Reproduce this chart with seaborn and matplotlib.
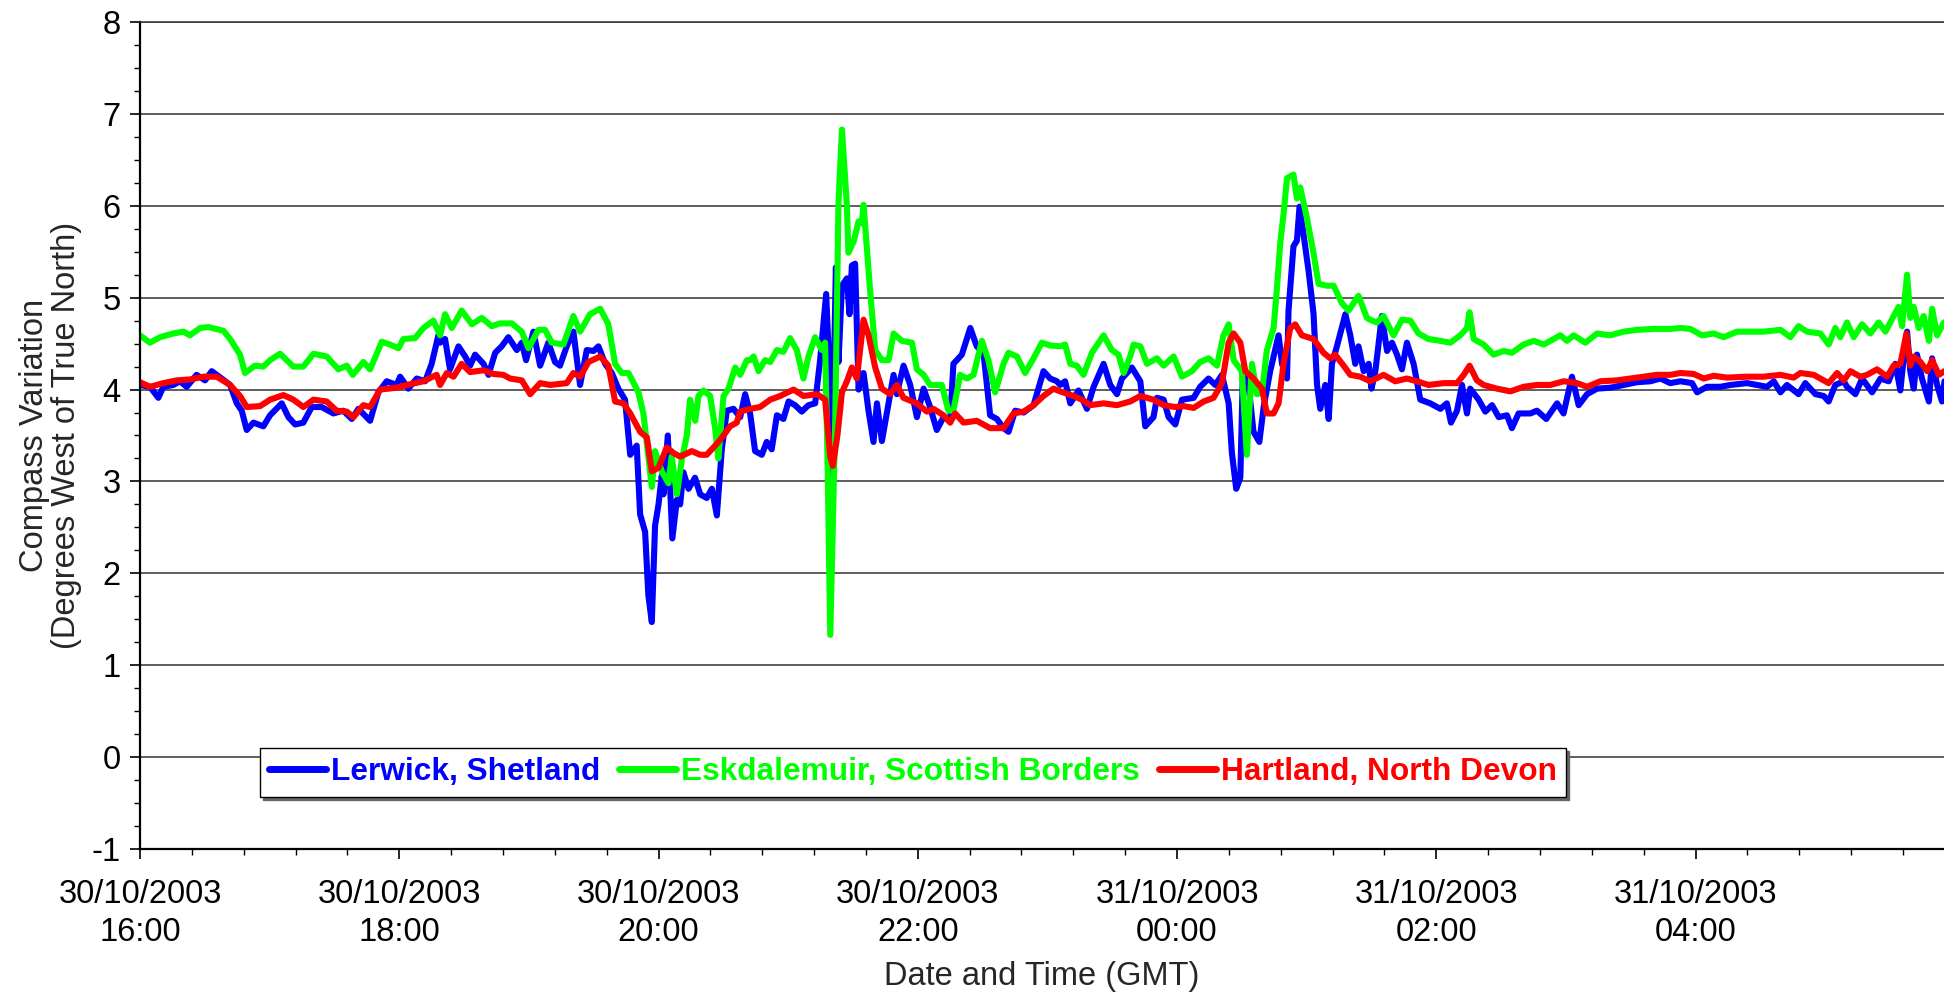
import pandas as pd
import numpy as np
import matplotlib.pyplot as plt
import matplotlib.dates as mdates
import seaborn as sns

# --- data: minutes after 30/10/2003 16:00 GMT, compass variation in degrees ---
lerwick_min = [
    0.0, 4.6, 8.5, 10.8, 15.4, 18.5, 21.6, 26.2, 30.1, 33.2,
    37.8, 41.7, 44.8, 47.1, 49.4, 52.5, 57.1, 60.2, 65.6, 68.7,
    71.8, 75.6, 79.5, 84.1, 89.5, 94.1, 98.0, 101.1, 106.5, 110.3,
    114.2, 118.8, 120.4, 124.2, 128.1, 132.0, 135.0, 138.1, 138.9, 141.2,
    143.5, 147.4, 150.5, 152.8, 155.1, 159.0, 161.3, 164.4, 167.4, 170.5,
    174.4, 176.7, 178.7, 182.1, 185.2, 189.0, 192.1, 194.4, 197.5, 200.6,
    203.7, 206.8, 209.9, 212.2, 215.3, 218.4, 221.4, 224.5, 226.9, 229.9,
    231.5, 233.8, 235.3, 236.9, 238.4, 240.0, 241.5, 242.3, 244.3, 246.4,
    248.5, 250.0, 251.5, 253.9, 256.9, 259.3, 262.3, 264.7, 267.0, 269.3,
    271.6, 274.7, 277.8, 280.1, 282.4, 284.7, 287.8, 290.1, 292.4, 294.8,
    297.8, 300.2, 303.2, 306.3, 309.4, 312.5, 314.8, 317.6, 318.7, 320.2,
    322.1, 323.3, 324.9, 327.2, 328.4, 329.5, 331.0, 332.6, 334.9, 337.2,
    339.5, 341.1, 343.4, 346.5, 348.8, 350.3, 353.4, 356.5, 359.6, 362.7,
    365.7, 368.8, 371.9, 375.0, 376.5, 380.4, 384.3, 387.3, 390.4, 393.5,
    396.6, 399.7, 402.0, 405.1, 409.0, 413.6, 418.2, 421.3, 424.4, 425.9,
    428.2, 430.6, 434.4, 438.3, 441.4, 446.0, 449.1, 452.2, 454.5, 459.1,
    463.0, 465.3, 469.1, 470.7, 473.8, 476.1, 479.2, 482.3, 487.7, 490.7,
    494.6, 497.7, 500.8, 503.9, 505.4, 507.4, 509.3, 510.5, 513.1, 515.4,
    518.1, 520.1, 523.1, 524.7, 527.0, 528.6, 530.9, 531.6, 533.9, 535.5,
    536.7, 538.6, 540.9, 543.2, 544.8, 546.3, 548.6, 550.2, 551.7, 554.0,
    557.9, 560.2, 562.5, 564.0, 566.4, 568.7, 570.0, 571.8, 574.8, 577.2, 579.5,
    581.8, 584.1, 586.4, 589.5, 592.6, 597.2, 601.9, 604.9, 606.8, 609.6,
    611.9, 614.2, 615.7, 619.6, 622.7, 625.8, 628.9, 632.7, 635.0, 638.1,
    643.5, 646.6, 650.9, 655.9, 658.9, 662.8, 665.9, 669.8, 674.4, 680.5,
    686.7, 692.9, 699.1, 703.7, 708.3, 713.0, 718.4, 720.7, 725.3, 731.5,
    736.1, 743.8, 753.1, 756.2, 759.3, 762.3, 767.7, 770.8, 775.5, 779.3,
    781.6, 784.7, 788.6, 790.1, 794.0, 797.1, 801.7, 805.6, 809.4, 812.5,
    814.8, 816.4, 817.9, 819.4, 821.0, 822.5, 824.8, 828.0, 829.5, 831.8, 834.1, 835.2,
]
lerwick_deg = [
    4.05, 4.03, 3.91, 4.03, 4.05, 4.09, 4.03, 4.16, 4.10, 4.20,
    4.12, 4.05, 3.85, 3.77, 3.56, 3.64, 3.60, 3.72, 3.85, 3.70,
    3.62, 3.64, 3.81, 3.81, 3.74, 3.77, 3.68, 3.79, 3.66, 3.97,
    4.09, 4.05, 4.14, 4.01, 4.12, 4.09, 4.28, 4.59, 4.51, 4.55,
    4.22, 4.47, 4.36, 4.26, 4.38, 4.28, 4.16, 4.40, 4.47, 4.57,
    4.43, 4.51, 4.32, 4.63, 4.26, 4.51, 4.30, 4.26, 4.47, 4.63,
    4.05, 4.43, 4.42, 4.47, 4.28, 4.18, 4.01, 3.89, 3.29, 3.39,
    2.64, 2.45, 1.76, 1.47, 2.52, 2.75, 3.06, 2.86, 3.50, 2.38,
    2.80, 2.75, 3.10, 2.92, 3.04, 2.86, 2.82, 2.92, 2.63, 3.35,
    3.77, 3.79, 3.70, 3.95, 3.74, 3.33, 3.29, 3.43, 3.35, 3.72,
    3.68, 3.87, 3.83, 3.76, 3.83, 3.85, 4.32, 5.04, 4.43, 3.04,
    5.33, 4.30, 5.13, 5.21, 4.82, 5.35, 5.37, 4.00, 4.18, 3.77,
    3.43, 3.85, 3.44, 3.85, 4.16, 3.95, 4.26, 4.05, 3.70, 4.01,
    3.81, 3.56, 3.70, 3.66, 4.28, 4.38, 4.67, 4.47, 4.40, 3.72,
    3.68, 3.58, 3.54, 3.77, 3.75, 3.83, 4.20, 4.12, 4.09, 4.05,
    4.09, 3.85, 3.99, 3.79, 4.03, 4.28, 4.05, 3.95, 4.12, 4.24,
    4.09, 3.60, 3.70, 3.91, 3.89, 3.70, 3.62, 3.89, 3.91, 4.03,
    4.12, 4.05, 4.16, 3.85, 3.31, 2.92, 3.04, 4.20, 4.05, 3.54,
    3.43, 3.81, 4.20, 4.36, 4.59, 4.28, 4.12, 4.86, 5.56, 5.62,
    5.99, 5.68, 5.29, 4.82, 4.05, 3.79, 4.05, 3.68, 4.28, 4.47,
    4.82, 4.59, 4.28, 4.47, 4.20, 4.28, 4.01, 4.20, 4.80, 4.42, 4.51,
    4.38, 4.22, 4.51, 4.28, 3.89, 3.85, 3.79, 3.85, 3.64, 3.77,
    4.05, 3.74, 4.01, 3.89, 3.76, 3.83, 3.70, 3.72, 3.58, 3.74,
    3.74, 3.77, 3.68, 3.85, 3.74, 4.14, 3.83, 3.95, 4.01, 4.02,
    4.05, 4.08, 4.09, 4.12, 4.07, 4.09, 4.07, 3.97, 4.03, 4.03,
    4.05, 4.07, 4.03, 4.09, 3.97, 4.05, 3.95, 4.07, 3.95, 3.93,
    3.87, 4.05, 4.09, 4.03, 3.95, 4.12, 3.97, 4.12, 4.09, 4.28,
    3.99, 4.36, 4.63, 4.20, 4.01, 4.38, 4.12, 3.87, 4.34, 4.05, 3.87, 4.09,
]

eskdalemuir_min = [
    0.0, 4.6, 9.3, 15.4, 20.1, 23.1, 27.8, 31.6, 38.6, 41.7,
    46.3, 48.6, 53.2, 57.1, 60.2, 64.8, 71.0, 75.6, 80.3, 86.4,
    91.8, 95.7, 98.5, 103.4, 106.5, 111.9, 115.7, 119.6, 121.9, 127.3,
    131.2, 135.8, 138.9, 141.2, 144.3, 148.9, 153.6, 158.2, 162.8, 166.7,
    172.1, 176.7, 179.8, 184.4, 187.5, 190.6, 196.0, 200.6, 203.7, 208.3,
    213.0, 216.8, 219.9, 223.0, 226.1, 230.7, 233.0, 235.3, 236.9, 238.4,
    241.5, 244.6, 246.1, 248.5, 250.8, 253.1, 254.6, 257.0, 258.5, 260.8,
    263.9, 266.2, 267.7, 270.1, 272.4, 275.5, 277.8, 280.9, 282.4, 284.0,
    286.3, 289.3, 291.7, 294.8, 297.8, 300.9, 304.0, 307.1, 309.4, 312.5,
    315.6, 317.1, 318.2, 319.5, 321.8, 323.3, 324.9, 327.2, 327.9, 330.3,
    332.6, 334.1, 334.9, 338.0, 340.3, 343.4, 346.5, 348.8, 352.6, 357.3,
    359.6, 362.7, 365.7, 371.1, 374.2, 376.5, 379.6, 382.7, 385.8, 389.7,
    392.7, 395.8, 399.7, 402.0, 405.9, 409.7, 413.6, 417.4, 421.3, 425.9,
    428.2, 430.6, 433.6, 436.7, 440.6, 446.0, 449.8, 452.9, 455.3, 458.3,
    459.9, 463.0, 466.1, 470.7, 473.8, 478.4, 482.3, 486.9, 490.7, 494.6,
    498.5, 501.5, 503.9, 506.2, 510.0, 512.3, 514.7, 517.0, 519.3, 521.6,
    524.7, 526.2, 527.8, 529.3, 530.9, 533.9, 535.5, 537.0, 540.1, 543.2,
    545.5, 549.4, 552.5, 556.3, 559.4, 564.0, 567.9, 569.4, 572.5, 575.6,
    580.2, 584.1, 588.0, 591.8, 596.4, 601.9, 606.5, 611.1, 614.2, 615.4,
    617.3, 621.9, 626.5, 631.2, 635.0, 640.4, 645.1, 649.7, 657.4, 660.5,
    663.6, 669.0, 674.4, 680.5, 686.7, 692.9, 700.6, 708.3, 713.0, 717.6,
    723.0, 728.4, 733.0, 739.2, 751.5, 759.3, 763.9, 767.7, 771.6, 777.8,
    781.6, 784.7, 787.0, 790.1, 793.2, 797.1, 800.9, 804.8, 807.9, 811.7,
    814.0, 815.6, 817.9, 819.4, 821.0, 823.3, 825.6, 828.0, 829.5, 831.8, 834.9,
]
eskdalemuir_deg = [
    4.59, 4.51, 4.57, 4.61, 4.63, 4.59, 4.67, 4.68, 4.64, 4.55,
    4.38, 4.18, 4.26, 4.25, 4.32, 4.39, 4.25, 4.25, 4.39, 4.36,
    4.22, 4.26, 4.16, 4.30, 4.22, 4.52, 4.49, 4.45, 4.55, 4.56,
    4.67, 4.75, 4.59, 4.82, 4.67, 4.86, 4.71, 4.78, 4.69, 4.72,
    4.72, 4.63, 4.45, 4.65, 4.65, 4.51, 4.49, 4.80, 4.63, 4.82,
    4.88, 4.71, 4.28, 4.18, 4.18, 3.97, 3.74, 3.27, 2.94, 3.33,
    3.11, 2.98, 3.27, 2.86, 3.24, 3.50, 3.89, 3.66, 3.93, 3.99,
    3.93, 3.58, 3.25, 3.93, 4.01, 4.24, 4.16, 4.32, 4.32, 4.36,
    4.20, 4.32, 4.30, 4.43, 4.41, 4.56, 4.43, 4.12, 4.36, 4.57,
    4.43, 4.51, 3.27, 1.33, 3.66, 6.03, 6.83, 6.00, 5.49, 5.61,
    5.83, 5.81, 6.01, 5.06, 4.43, 4.32, 4.32, 4.61, 4.53, 4.51,
    4.22, 4.16, 4.05, 4.05, 3.77, 3.77, 4.16, 4.12, 4.16, 4.53,
    4.32, 3.97, 4.28, 4.40, 4.36, 4.18, 4.34, 4.51, 4.48, 4.47,
    4.49, 4.28, 4.26, 4.16, 4.40, 4.59, 4.43, 4.38, 4.18, 4.36,
    4.49, 4.47, 4.28, 4.34, 4.26, 4.36, 4.14, 4.20, 4.30, 4.34,
    4.26, 4.59, 4.71, 4.32, 4.20, 3.29, 4.28, 3.95, 3.97, 4.43,
    4.67, 5.09, 5.60, 5.91, 6.30, 6.34, 6.08, 6.20, 5.87, 5.48,
    5.15, 5.13, 5.13, 4.94, 4.86, 5.02, 4.78, 4.76, 4.73, 4.80,
    4.59, 4.76, 4.75, 4.61, 4.55, 4.53, 4.51, 4.59, 4.67, 4.84,
    4.55, 4.49, 4.38, 4.42, 4.40, 4.49, 4.53, 4.49, 4.59, 4.53,
    4.59, 4.51, 4.61, 4.59, 4.63, 4.65, 4.66, 4.66, 4.67, 4.66,
    4.59, 4.61, 4.57, 4.63, 4.63, 4.65, 4.57, 4.69, 4.63, 4.61,
    4.49, 4.67, 4.57, 4.73, 4.57, 4.71, 4.61, 4.73, 4.63, 4.80,
    4.90, 4.69, 5.25, 4.78, 4.90, 4.67, 4.80, 4.53, 4.88, 4.59, 4.73,
]

hartland_min = [
    0.0, 4.6, 10.8, 17.0, 23.1, 29.3, 35.5, 41.7, 46.3, 49.4,
    55.6, 60.2, 66.4, 71.0, 75.6, 80.3, 86.4, 91.0, 95.7, 98.8,
    103.4, 106.5, 111.1, 118.8, 123.5, 131.2, 137.3, 138.9, 142.0, 145.1,
    148.9, 152.8, 159.0, 163.6, 168.2, 171.3, 176.7, 180.6, 185.2, 189.8,
    197.5, 200.6, 203.7, 207.6, 213.0, 216.8, 219.9, 223.8, 226.9, 231.5,
    234.6, 236.9, 240.0, 243.8, 246.9, 250.0, 255.4, 259.3, 262.3, 267.0,
    270.1, 273.1, 276.2, 277.8, 282.4, 287.0, 291.7, 296.3, 302.5, 307.1,
    313.3, 317.1, 319.5, 320.7, 322.8, 324.9, 327.2, 329.5, 331.8, 334.9,
    337.2, 340.3, 343.4, 347.2, 350.3, 353.4, 359.6, 364.2, 367.3, 371.9,
    375.0, 377.3, 381.2, 387.3, 393.5, 399.7, 404.3, 409.0, 413.6, 418.2,
    422.8, 425.9, 432.1, 436.0, 439.8, 446.0, 452.2, 458.3, 463.0, 469.1,
    473.8, 479.2, 483.0, 487.7, 492.3, 496.9, 500.8, 503.9, 506.2, 509.3,
    511.6, 515.4, 519.3, 521.6, 524.7, 527.0, 529.3, 532.4, 534.7, 537.8,
    543.2, 547.8, 550.9, 553.2, 557.1, 560.2, 564.8, 569.4, 575.6, 581.0,
    586.4, 591.0, 596.4, 603.4, 609.6, 612.7, 615.4, 618.8, 621.9, 628.1,
    634.3, 640.4, 646.6, 652.8, 658.9, 665.1, 669.8, 675.9, 683.6, 692.9,
    702.2, 708.3, 713.0, 719.1, 723.8, 728.4, 734.6, 743.8, 751.5, 759.3,
    765.4, 768.5, 774.7, 781.6, 785.5, 788.6, 791.7, 796.3, 799.4, 804.0,
    808.6, 811.7, 814.8, 817.6, 819.4, 821.0, 824.1, 827.2, 829.5, 832.6, 835.2,
]
hartland_deg = [
    4.08, 4.03, 4.07, 4.10, 4.11, 4.14, 4.14, 4.05, 3.93, 3.81,
    3.82, 3.89, 3.94, 3.89, 3.81, 3.89, 3.87, 3.77, 3.76, 3.70,
    3.83, 3.81, 4.00, 4.02, 4.05, 4.09, 4.16, 4.05, 4.18, 4.14,
    4.28, 4.19, 4.21, 4.17, 4.16, 4.12, 4.10, 3.95, 4.07, 4.05,
    4.07, 4.18, 4.14, 4.30, 4.36, 4.26, 3.87, 3.85, 3.74, 3.54,
    3.48, 3.11, 3.15, 3.37, 3.31, 3.27, 3.33, 3.29, 3.29, 3.41,
    3.50, 3.60, 3.64, 3.76, 3.79, 3.81, 3.89, 3.93, 4.00, 3.93,
    3.95, 3.89, 3.27, 3.17, 3.50, 3.97, 4.09, 4.24, 4.12, 4.76,
    4.59, 4.24, 4.01, 3.95, 4.05, 3.91, 3.85, 3.76, 3.79, 3.72,
    3.64, 3.74, 3.64, 3.66, 3.58, 3.58, 3.74, 3.76, 3.83, 3.93,
    4.01, 3.98, 3.93, 3.89, 3.83, 3.85, 3.83, 3.87, 3.93, 3.89,
    3.83, 3.81, 3.82, 3.80, 3.87, 3.91, 4.07, 4.51, 4.61, 4.51,
    4.20, 4.12, 4.01, 3.74, 3.74, 3.85, 4.28, 4.67, 4.71, 4.59,
    4.55, 4.40, 4.34, 4.38, 4.26, 4.16, 4.14, 4.09, 4.16, 4.09,
    4.12, 4.09, 4.05, 4.07, 4.07, 4.16, 4.26, 4.10, 4.05, 4.01,
    3.98, 4.03, 4.05, 4.05, 4.09, 4.07, 4.03, 4.09, 4.10, 4.13,
    4.16, 4.16, 4.18, 4.17, 4.12, 4.15, 4.13, 4.14, 4.14, 4.16,
    4.13, 4.18, 4.16, 4.07, 4.18, 4.10, 4.20, 4.14, 4.16, 4.22,
    4.14, 4.26, 4.28, 4.61, 4.26, 4.36, 4.30, 4.20, 4.32, 4.16, 4.20,
]

series_names = ['Lerwick, Shetland', 'Eskdalemuir, Scottish Borders', 'Hartland, North Devon']
series_colors = ['#0000FF', '#00FF00', '#FF0000']

start = pd.Timestamp('2003-10-30 16:00')

def to_time(minutes):
    return start + pd.to_timedelta(np.array(minutes), unit='min')

sns.set_theme(style='white')
plt.rcParams['font.family'] = ['Liberation Sans', 'DejaVu Sans']
plt.rcParams['axes.unicode_minus'] = False

fig = plt.figure(figsize=(19.44, 9.96), dpi=100)
ax = fig.add_axes([140/1944, 1 - 849/996, 1804/1944, 827/996])

all_series = [(lerwick_min, lerwick_deg), (eskdalemuir_min, eskdalemuir_deg), (hartland_min, hartland_deg)]
for (mins, degs), name, col in zip(all_series, series_names, series_colors):
    sns.lineplot(x=to_time(mins), y=degs, color=col, lw=4.4, label=name, ax=ax,
                 estimator=None, sort=False, solid_joinstyle='round', solid_capstyle='round')

ax.set_xlim(start, start + pd.Timedelta(minutes=835))
ax.set_ylim(-1, 8)
ax.set_yticks(range(-1, 9))
ax.yaxis.set_minor_locator(plt.MultipleLocator(0.25))
ax.xaxis.set_major_locator(mdates.HourLocator(byhour=range(0, 24, 2)))
ax.xaxis.set_major_formatter(mdates.DateFormatter('%d/%m/%Y\n%H:%M'))
minor_times = pd.date_range(start, start + pd.Timedelta(minutes=835), freq='24min')
ax.xaxis.set_minor_locator(plt.FixedLocator(mdates.date2num(minor_times)))

ax.grid(axis='y', which='major', color='#333333', lw=1.1)
ax.set_axisbelow(True)
for s in ['left', 'bottom']:
    ax.spines[s].set_color('black')
    ax.spines[s].set_linewidth(1.6)
ax.spines['right'].set_visible(False)
ax.spines['top'].set_color('#333333')
ax.spines['top'].set_linewidth(1.1)

ax.tick_params(axis='both', which='major', direction='out', length=7.5, width=1.2,
               color='black', labelsize=23.5, labelcolor='black',
               bottom=True, left=True)
ax.tick_params(axis='x', which='major', pad=14)
ax.tick_params(axis='y', which='major', pad=6.5)
ax.tick_params(axis='both', which='minor', direction='out', length=4.5, width=1.0,
               color='black', bottom=True, left=True)
for lab in ax.get_xticklabels():
    lab.set_linespacing(1.3)

ax.set_xlabel('Date and Time (GMT)', fontsize=23.5, labelpad=9)
ax.set_ylabel('Compass Variation\n(Degrees West of True North)', fontsize=23.5,
              linespacing=1.05)
ax.yaxis.set_label_coords(-0.032, 0.5)

leg = ax.legend(loc='lower left', bbox_to_anchor=(0.0665, 0.063), ncol=3,
                frameon=True, fancybox=False, edgecolor='black', framealpha=1,
                prop={'weight': 'bold', 'size': 22.8}, handlelength=1.8,
                handletextpad=0.15, columnspacing=0.6, borderpad=0.3,
                borderaxespad=0, shadow={'color': '#666666', 'alpha': 1})
leg.get_frame().set_linewidth(1.0)
for txt, col in zip(leg.get_texts(), series_colors):
    txt.set_color(col)
for h in leg.get_lines():
    h.set_linewidth(5)

fig.savefig('out.png', dpi=100)
